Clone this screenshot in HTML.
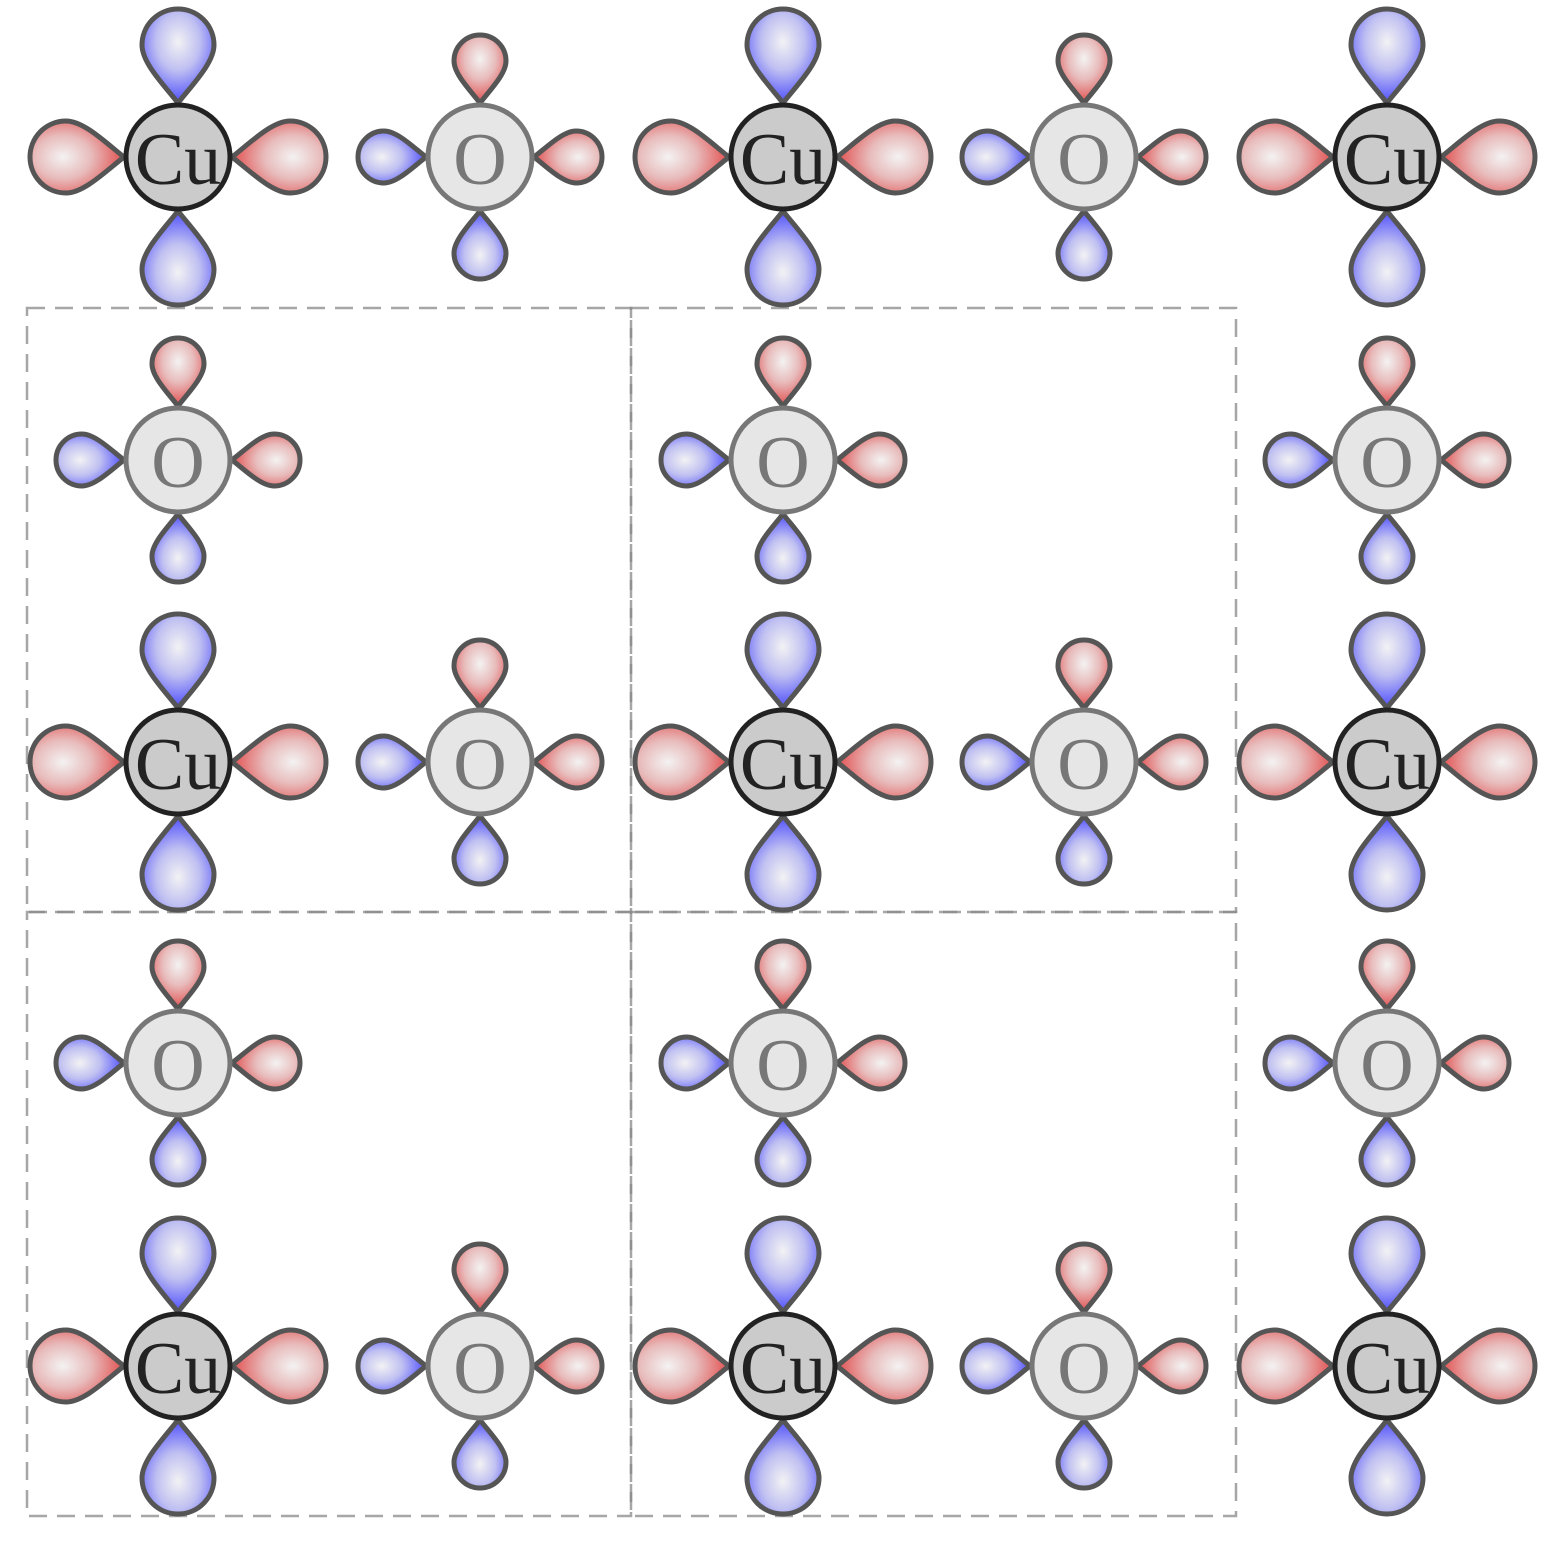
<!DOCTYPE html>
<html><head><meta charset="utf-8"><style>html,body{margin:0;padding:0;background:#fff}svg{display:block}</style></head>
<body>
<svg width="1548" height="1541" viewBox="0 0 1548 1541" xmlns="http://www.w3.org/2000/svg">
<defs>
<radialGradient id="gB" cx="0.5" cy="0.35" r="0.75">
<stop offset="0" stop-color="#f2f2f4"/><stop offset="0.4" stop-color="#c0c0f2"/><stop offset="1" stop-color="#2e2eff"/>
</radialGradient>
<radialGradient id="gR" cx="0.5" cy="0.35" r="0.75">
<stop offset="0" stop-color="#f4f2f2"/><stop offset="0.4" stop-color="#e8bcbc"/><stop offset="1" stop-color="#e03030"/>
</radialGradient>
<path id="LB" d="M0,0 C-14,-18 -36,-40 -36,-58 A36,36 0 0 1 36,-58 C36,-40 14,-18 0,0Z" fill="url(#gB)" stroke="#555" stroke-width="5" stroke-linejoin="round"/>
<path id="LR" d="M0,0 C-14,-18 -36,-40 -36,-58 A36,36 0 0 1 36,-58 C36,-40 14,-18 0,0Z" fill="url(#gR)" stroke="#555" stroke-width="5" stroke-linejoin="round"/>
<path id="SB" d="M0,0 C-10,-13 -26,-29 -26,-42 A26,26 0 0 1 26,-42 C26,-29 10,-13 0,0Z" fill="url(#gB)" stroke="#555" stroke-width="5" stroke-linejoin="round"/>
<path id="SR" d="M0,0 C-10,-13 -26,-29 -26,-42 A26,26 0 0 1 26,-42 C26,-29 10,-13 0,0Z" fill="url(#gR)" stroke="#555" stroke-width="5" stroke-linejoin="round"/>
<g id="cu">
<use href="#LB" transform="translate(0,-54)"/>
<use href="#LB" transform="translate(0,54) rotate(180)"/>
<use href="#LR" transform="translate(-54,0) rotate(-90)"/>
<use href="#LR" transform="translate(54,0) rotate(90)"/>
<circle r="52" fill="#cbcbcb" stroke="#222" stroke-width="5"/>
</g>
<g id="ox">
<use href="#SR" transform="translate(0,-54)"/>
<use href="#SB" transform="translate(0,54) rotate(180)"/>
<use href="#SB" transform="translate(-54,0) rotate(-90)"/>
<use href="#SR" transform="translate(54,0) rotate(90)"/>
<circle r="52" fill="#e6e6e6" stroke="#777" stroke-width="5"/>
</g>
</defs>
<g fill="none" stroke="#888" stroke-opacity="0.75" stroke-width="2.5" stroke-dasharray="18 10">
<rect x="27" y="308" width="604" height="604"/>
<rect x="631" y="308" width="605" height="604"/>
<rect x="27" y="912" width="604" height="604"/>
<rect x="631" y="912" width="605" height="604"/>
</g>
<g>
<use href="#cu" x="178" y="157"/><use href="#ox" x="480" y="157"/><use href="#cu" x="783" y="157"/><use href="#ox" x="1084" y="157"/><use href="#cu" x="1387" y="157"/>
<use href="#ox" x="178" y="460"/><use href="#ox" x="783" y="460"/><use href="#ox" x="1387" y="460"/>
<use href="#cu" x="178" y="762"/><use href="#ox" x="480" y="762"/><use href="#cu" x="783" y="762"/><use href="#ox" x="1084" y="762"/><use href="#cu" x="1387" y="762"/>
<use href="#ox" x="178" y="1063"/><use href="#ox" x="783" y="1063"/><use href="#ox" x="1387" y="1063"/>
<use href="#cu" x="178" y="1366"/><use href="#ox" x="480" y="1366"/><use href="#cu" x="783" y="1366"/><use href="#ox" x="1084" y="1366"/><use href="#cu" x="1387" y="1366"/>
</g>
<g font-family="'Liberation Serif', serif" font-size="74" text-anchor="middle">
<g fill="#222">
<text x="178" y="184">Cu</text><text x="783" y="184">Cu</text><text x="1387" y="184">Cu</text>
<text x="178" y="789">Cu</text><text x="783" y="789">Cu</text><text x="1387" y="789">Cu</text>
<text x="178" y="1393">Cu</text><text x="783" y="1393">Cu</text><text x="1387" y="1393">Cu</text>
</g>
<g fill="#777">
<text x="480" y="184">O</text><text x="1084" y="184">O</text>
<text x="178" y="487">O</text><text x="783" y="487">O</text><text x="1387" y="487">O</text>
<text x="480" y="789">O</text><text x="1084" y="789">O</text>
<text x="178" y="1090">O</text><text x="783" y="1090">O</text><text x="1387" y="1090">O</text>
<text x="480" y="1393">O</text><text x="1084" y="1393">O</text>
</g>
</g>
</svg>
</body></html>
